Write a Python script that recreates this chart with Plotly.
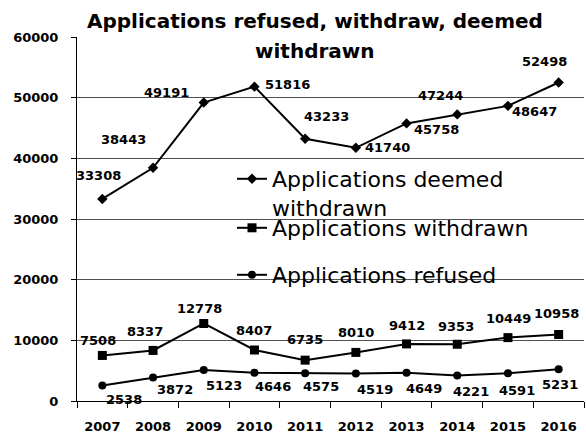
import plotly.graph_objects as go

years = ["2007", "2008", "2009", "2010", "2011", "2012", "2013", "2014", "2015", "2016"]
deemed = [33308, 38443, 49191, 51816, 43233, 41740, 45758, 47244, 48647, 52498]
withdrawn = [7508, 8337, 12778, 8407, 6735, 8010, 9412, 9353, 10449, 10958]
refused = [2538, 3872, 5123, 4646, 4575, 4519, 4649, 4221, 4591, 5231]
y_ticks = [0, 10000, 20000, 30000, 40000, 50000, 60000]

title_lines = ["Applications refused, withdraw, deemed", "withdrawn"]
names = ["Applications deemed<br>withdrawn", "Applications withdrawn", "Applications refused"]

# label offsets in pixels (styling)
deemed_off = [(-4, -23), (-30, -28), (-37, -10), (33, -2), (21, -22), (32, 0), (30, 6), (-17, -19), (27, 6), (-14, -21)]
withdrawn_off = [(-4, -15), (-8, -19), (-4, -15), (0, -20), (0, -21), (0, -20), (0, -18), (-1, -18), (1, -19), (-2, -21)]
refused_off = [(22, 14), (22, 12), (20, 16), (19, 14), (16, 13), (19, 16), (17, 16), (14, 16), (9, 17), (1, 15)]

FONT = "DejaVu Sans"
num_font = dict(family=FONT, size=13, color="black", weight="bold")

fig = go.Figure()
series = [
    (deemed, "diamond", 8, "legend"),
    (withdrawn, "square", 9, "legend2"),
    (refused, "circle", 8, "legend3"),
]
for (vals, sym, msize, lg), nm in zip(series, names):
    fig.add_trace(go.Scatter(
        x=years, y=vals, name=nm, mode="lines+markers",
        line=dict(color="black", width=2),
        marker=dict(symbol=sym, size=msize, color="black"),
        legend=lg, cliponaxis=False,
    ))

annotations = []
for vals, offs in [(deemed, deemed_off), (withdrawn, withdrawn_off), (refused, refused_off)]:
    for i, (v, (dx, dy)) in enumerate(zip(vals, offs)):
        annotations.append(dict(
            x=i, y=v, xref="x", yref="y", text=str(v), showarrow=False,
            xshift=dx, yshift=-dy, font=num_font,
        ))

# title as annotations (line 1 masks the top gridline)
annotations.append(dict(
    text=title_lines[0], xref="paper", yref="paper", x=0.4694, y=1.045,
    xanchor="center", yanchor="middle", showarrow=False, bgcolor="white",
    font=dict(family=FONT, size=20, color="black", weight="bold"),
))
annotations.append(dict(
    text=title_lines[1], xref="paper", yref="paper", x=0.4694, y=0.961,
    xanchor="center", yanchor="middle", showarrow=False,
    font=dict(family=FONT, size=20, color="black", weight="bold"),
))

leg_font = dict(family=FONT, size=22, color="black")
leg_common = dict(xref="paper", yref="paper", xanchor="left", yanchor="top",
                  bgcolor="rgba(0,0,0,0)", borderwidth=0, font=leg_font, valign="top",
                  itemclick=False, itemdoubleclick=False)

def px_x(p):
    return (p - 77) / 507

def px_y(p):
    return (401 - p) / 364

fig.update_layout(
    width=586, height=436,
    margin=dict(l=77, r=2, t=37, b=35, autoexpand=False),
    plot_bgcolor="white", paper_bgcolor="white",
    annotations=annotations,
    showlegend=True,
    legend=dict(x=px_x(232), y=px_y(158), **leg_common),
    legend2=dict(x=px_x(232), y=px_y(207), **leg_common),
    legend3=dict(x=px_x(232), y=px_y(254), **leg_common),
    shapes=[dict(type="rect", xref="paper", yref="paper",
                 x0=px_x(207), x1=px_x(564), y0=px_y(300), y1=px_y(163),
                 fillcolor="white", line=dict(width=0), layer="between")],
)
fig.update_xaxes(
    type="category", categoryorder="array", categoryarray=years, range=[-0.5, 9.5],
    showline=True, linecolor="black", linewidth=1,
    ticks="outside", ticklen=6, tickcolor="black", tickson="boundaries",
    showgrid=False, tickfont=num_font, ticklabelstandoff=13,
)
fig.update_yaxes(
    range=[0, 60000], tickvals=y_ticks, tickformat="d", showline=True,
    linecolor="black", linewidth=1,
    ticks="outside", ticklen=5, tickcolor="black",
    showgrid=True, gridcolor="#505050", gridwidth=1, zeroline=False,
    tickfont=num_font, ticklabelstandoff=10,
)

fig.write_html("out.html", config={"displayModeBar": False},
               post_script="document.body.style.margin='0';")
